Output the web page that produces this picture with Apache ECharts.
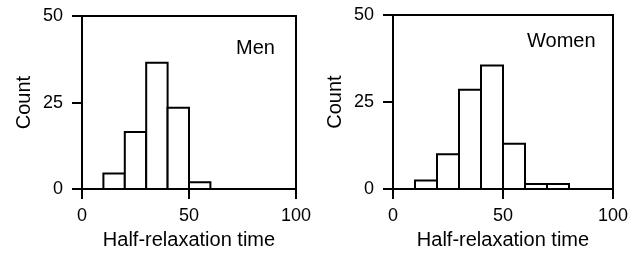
<!DOCTYPE html>
<html>
<head>
<meta charset="utf-8">
<script src="https://cdn.jsdelivr.net/npm/echarts@6/dist/echarts.min.js"></script>
<style>
  html, body { margin: 0; padding: 0; background: #fff; }
  #chart { width: 640px; height: 255px; }
</style>
</head>
<body>
<div id="chart"></div>
<script>
// bin edges and counts
const binWidth = 10;
const menBins = [10, 20, 30, 40, 50];
const menCounts = [4.5, 16.5, 36.5, 23.5, 2];
const womenBins = [10, 20, 30, 40, 50, 60, 70];
const womenCounts = [2.5, 10, 28.5, 35.5, 13, 1.5, 1.5];
const xTicks = [0, 50, 100];
const yTicks = [0, 25, 50];

const FONT = '"Liberation Sans", Arial, sans-serif';

const toData = (bins, counts) => bins.map((b, i) => [b, b + binWidth, counts[i]]);

function renderBin(params, api) {
  const topLeft = api.coord([api.value(0), api.value(2)]);
  const bottomRight = api.coord([api.value(1), 0]);
  return {
    type: 'rect',
    shape: {
      x: topLeft[0],
      y: topLeft[1],
      width: bottomRight[0] - topLeft[0],
      height: bottomRight[1] - topLeft[1],
    },
    style: { fill: '#fff', stroke: '#000', lineWidth: 2 },
  };
}

function xAxis(gridIndex) {
  return {
    gridIndex,
    type: 'value',
    min: xTicks[0],
    max: xTicks[xTicks.length - 1],
    interval: xTicks[1] - xTicks[0],
    name: 'Half-relaxation time',
    nameLocation: 'middle',
    nameGap: 40,
    nameTextStyle: { color: '#000', fontSize: 20, fontFamily: FONT },
    axisLine: { show: true, lineStyle: { color: '#000', width: 2 } },
    axisTick: { show: true, length: 10, lineStyle: { color: '#000', width: 2 } },
    axisLabel: { color: '#000', fontSize: 18, fontFamily: FONT, margin: 18 },
    splitLine: { show: false },
  };
}

function yAxis(gridIndex) {
  return {
    gridIndex,
    type: 'value',
    min: yTicks[0],
    max: yTicks[yTicks.length - 1],
    interval: yTicks[1] - yTicks[0],
    name: 'Count',
    nameLocation: 'middle',
    nameGap: 48,
    nameRotate: 90,
    nameTextStyle: { color: '#000', fontSize: 20, fontFamily: FONT },
    axisLine: { show: true, lineStyle: { color: '#000', width: 2 } },
    axisTick: { show: true, length: 10, lineStyle: { color: '#000', width: 2 } },
    axisLabel: { color: '#000', fontSize: 18, fontFamily: FONT, margin: 19 },
    splitLine: { show: false },
  };
}

const chart = echarts.init(document.getElementById('chart'), null, { renderer: 'canvas' });
chart.setOption({
  animation: false,
  backgroundColor: '#fff',
  title: [
    { text: 'Men', left: 236, top: 38, textStyle: { color: '#000', fontSize: 20, fontWeight: 'normal', fontFamily: FONT }, padding: 0 },
    { text: 'Women', left: 527, top: 31, textStyle: { color: '#000', fontSize: 20, fontWeight: 'normal', fontFamily: FONT }, padding: 0 },
  ],
  grid: [
    { left: 82, top: 16, width: 214, height: 175, show: true, borderColor: '#000', borderWidth: 2, backgroundColor: 'transparent' },
    { left: 393, top: 15, width: 220, height: 175, show: true, borderColor: '#000', borderWidth: 2, backgroundColor: 'transparent' },
  ],
  xAxis: [xAxis(0), xAxis(1)],
  yAxis: [yAxis(0), yAxis(1)],
  series: [
    { type: 'custom', xAxisIndex: 0, yAxisIndex: 0, renderItem: renderBin, data: toData(menBins, menCounts) },
    { type: 'custom', xAxisIndex: 1, yAxisIndex: 1, renderItem: renderBin, data: toData(womenBins, womenCounts) },
  ],
});
</script>
</body>
</html>
